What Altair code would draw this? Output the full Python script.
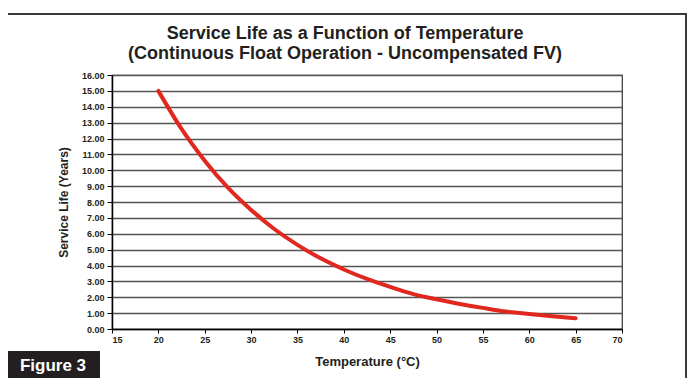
import altair as alt
import pandas as pd

# Data
temperature_c = [20, 22.5, 25, 27.5, 30, 32.5, 35, 37.5, 40, 42.5, 45, 47.5, 50, 52.5, 55, 57.5, 60, 62.5, 65]
service_life_years = [15.0, 12.6, 10.6, 8.9, 7.5, 6.3, 5.3, 4.45, 3.75, 3.15, 2.65, 2.2, 1.87, 1.58, 1.33, 1.1, 0.94, 0.8, 0.68]
x_ticks = [15, 20, 25, 30, 35, 40, 45, 50, 55, 60, 65, 70]
y_ticks = list(range(0, 17))
title_lines = ["Service Life as a Function of Temperature",
               "(Continuous Float Operation - Uncompensated FV)"]
figure_label = "Figure 3"

FONT = "Liberation Sans"
INK = "#231f20"

df = pd.DataFrame({"Temperature": temperature_c, "Life": service_life_years})
one = pd.DataFrame({"k": [0]})

curve = alt.Chart(df).mark_line(color="#e0281e", strokeWidth=4, strokeCap="round",
                                interpolate="monotone").encode(
    x=alt.X("Temperature:Q",
            scale=alt.Scale(domain=[15, 70], nice=False, zero=False),
            axis=alt.Axis(values=x_ticks, title="Temperature (°C)", grid=False,
                          tickSize=4, labelPadding=2, titlePadding=11,
                          domainColor="#000", domainWidth=1.5, tickColor="#000")),
    y=alt.Y("Life:Q",
            scale=alt.Scale(domain=[0, 16], nice=False),
            axis=alt.Axis(values=y_ticks, format=".2f", title="Service Life (Years)",
                          grid=True, gridColor="#555", gridWidth=1.3,
                          tickSize=5, labelPadding=3, titlePadding=11,
                          domainColor="#000", domainWidth=1.5, tickColor="#000")),
)

frame = alt.Chart(one).mark_rect(filled=False, stroke="#3a3a3a", strokeWidth=2).encode(
    x=alt.value(-108), x2=alt.value(574), y=alt.value(-61), y2=alt.value(306))

fig_box = alt.Chart(one).mark_rect(fill=INK).encode(
    x=alt.value(-108), x2=alt.value(-12), y=alt.value(276), y2=alt.value(306))

fig_text = alt.Chart(one).mark_text(text=figure_label, color="white", font=FONT,
                                    fontWeight="bold", fontSize=17, align="center",
                                    baseline="middle").encode(
    x=alt.value(-59), y=alt.value(291))

title1 = alt.Chart(one).mark_text(text=title_lines[0], color=INK, font=FONT,
                                  fontWeight="bold", fontSize=18, align="center",
                                  baseline="alphabetic").encode(
    x=alt.value(233), y=alt.value(-36))

title2 = alt.Chart(one).mark_text(text=title_lines[1], color=INK, font=FONT,
                                  fontWeight="bold", fontSize=18, align="center",
                                  baseline="alphabetic").encode(
    x=alt.value(233), y=alt.value(-16.5))

chart = alt.layer(frame, fig_box, fig_text, title1, title2, curve).properties(
    width=510, height=254,
    padding={"left": 104, "top": 67, "right": 65, "bottom": 49},
    autosize=alt.AutoSizeParams(type="none"),
).configure_view(stroke="#333", strokeWidth=1.2).configure_axis(
    labelFont=FONT, labelFontWeight="bold", labelFontSize=9, labelColor=INK,
    titleFont=FONT, titleFontWeight="bold", titleColor=INK,
).configure_axisX(titleFontSize=13).configure_axisY(titleFontSize=12)

chart.save("out.html", embed_options={"renderer": "svg", "actions": False})
